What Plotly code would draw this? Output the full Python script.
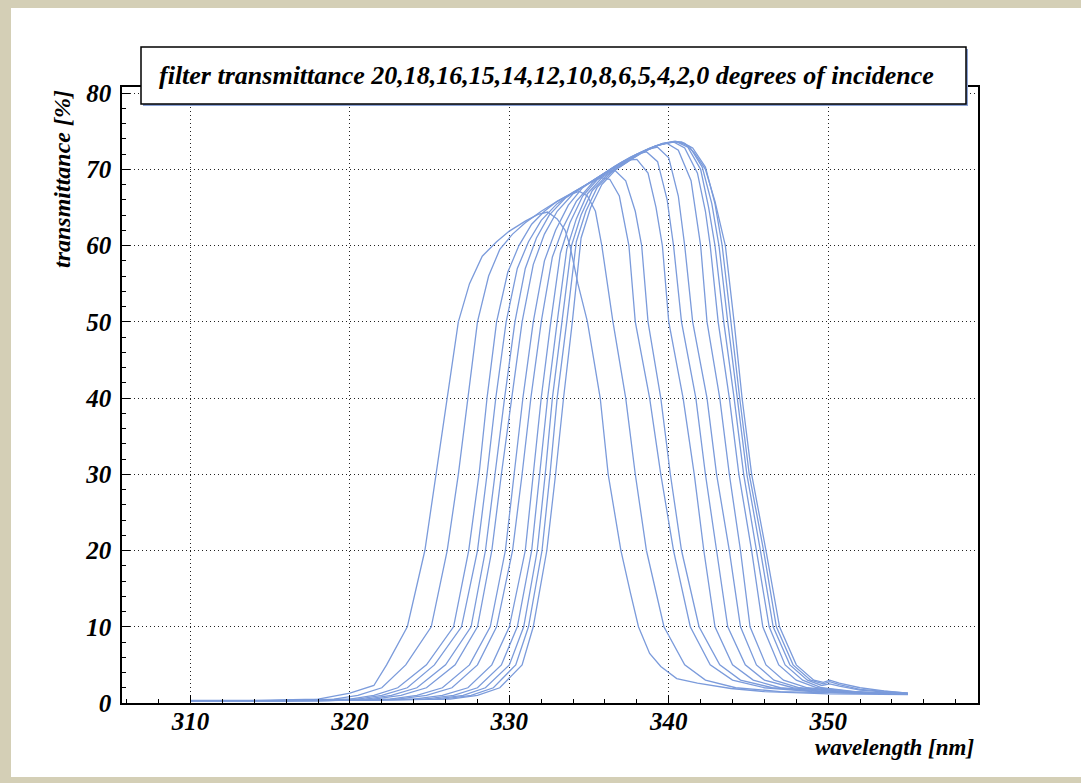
import plotly.graph_objects as go

# incidence angles (degrees)
ANGLES = [20, 18, 16, 15, 14, 12, 10, 8, 6, 5, 4, 2, 0]

WL_20 = [310, 314, 318, 320, 321.5, 322.3, 323.6, 324.7, 325.4, 326.1, 326.8, 327.5, 328.3, 329.2, 330.0, 331.0, 331.8, 332.4, 333.0, 333.5, 333.8, 334.3, 334.9, 335.3, 335.7, 336.2, 337.0, 337.6, 338.1, 338.8, 339.5, 340.5, 341.8, 343.9, 346.0, 350.0, 355.0]
T_20 = [0.35, 0.35, 0.5, 1.3, 2.3, 5, 10, 20, 30, 40, 50, 55, 58.6, 60.5, 61.9, 63.2, 64.1, 64.4, 63.5, 62.0, 60, 55, 50, 45, 40, 30, 20, 14.4, 10, 6.5, 4.8, 3.2, 2.6, 1.9, 1.5, 1.2, 1.1]

WL_18 = [310, 315, 319.0, 320.5, 322.0, 323.5, 325.1, 326.1, 326.8, 327.4, 328.0, 328.7, 329.4, 330.2, 331.0, 332.0, 333.0, 333.8, 334.4, 334.9, 335.4, 335.8, 336.5, 337.3, 337.9, 338.6, 339.7, 341.0, 342.3, 344.2, 347.0, 351.0, 355.0]
T_18 = [0.3, 0.3, 0.5, 1.0, 2, 5, 10, 20, 30, 40, 50, 56, 59.5, 61.5, 63.0, 64.5, 65.8, 66.7, 67.1, 66.5, 64.5, 60, 50, 40, 30, 20, 10, 5, 3, 2, 1.5, 1.3, 1.2]

WL_16 = [310, 316, 320.0, 321.5, 323.0, 324.8, 326.5, 327.45, 328.1, 328.6, 329.2, 329.9, 330.6, 331.4, 332.2, 333.0, 334.0, 335.0, 335.7, 336.3, 336.9, 337.5, 337.9, 338.8, 339.5, 340.3, 341.35, 342.6, 344.0, 346.0, 349.0, 352.0, 355.0]
T_16 = [0.3, 0.3, 0.5, 1.0, 2, 5, 10, 20, 30, 40, 50, 56.5, 60, 62.8, 64.5, 65.8, 67.0, 68.2, 68.9, 68.7, 66.5, 60, 50, 40, 30, 20, 10, 5, 3, 2, 1.5, 1.3, 1.2]

WL_15 = [310, 316, 320.5, 322.0, 323.6, 325.3, 327.0, 328.0, 328.6, 329.15, 329.8, 330.5, 331.2, 332.0, 333.0, 334.0, 335.0, 336.0, 336.6, 337.3, 337.9, 338.3, 338.7, 339.5, 340.1, 340.8, 341.9, 343.2, 344.5, 346.5, 349.5, 352.5, 355.0]
T_15 = [0.3, 0.3, 0.5, 1.0, 2, 5, 10, 20, 30, 40, 50, 57, 60.5, 63.3, 65.5, 67.0, 68.2, 69.5, 69.9, 68.5, 64.5, 60, 50, 40, 30, 20, 10, 5, 3, 2, 1.5, 1.3, 1.2]

WL_14 = [310, 316, 321.0, 322.6, 324.2, 326.0, 327.6, 328.5, 329.1, 329.7, 330.35, 331.0, 331.7, 332.5, 333.5, 334.5, 335.5, 336.5, 337.4, 338.0, 338.7, 339.2, 339.6, 340.0, 340.9, 341.6, 342.2, 342.9, 344.0, 345.3, 347.0, 350.0, 352.5, 355.0]
T_14 = [0.3, 0.3, 0.5, 1.0, 2, 5, 10, 20, 30, 40, 50, 57, 61, 64, 66.2, 67.6, 68.9, 70.2, 71.2, 71.3, 69.5, 65, 60, 50, 40, 30, 20, 10, 5, 3, 2, 1.5, 1.3, 1.2]

WL_12 = [310, 316, 321.5, 323.2, 324.8, 326.6, 328.0, 328.9, 329.5, 330.15, 330.8, 331.5, 332.2, 333.0, 334.0, 335.0, 336.0, 337.0, 338.0, 338.6, 339.3, 339.9, 340.3, 340.8, 341.7, 342.3, 343.0, 343.7, 344.8, 346.0, 347.8, 350.5, 353.0, 355.0]
T_12 = [0.3, 0.3, 0.5, 1.0, 2, 5, 10, 20, 30, 40, 50, 57.5, 61.5, 64.5, 66.8, 68.2, 69.6, 70.9, 72.0, 72.3, 71.0, 66, 60, 50, 40, 30, 20, 10, 5, 3, 2, 1.5, 1.3, 1.2]

WL_10 = [310, 317, 322.5, 324.2, 325.8, 327.5, 328.8, 329.75, 330.3, 330.85, 331.5, 332.2, 332.9, 333.7, 334.6, 335.6, 336.6, 337.6, 338.6, 339.3, 340.0, 340.6, 341.0, 341.5, 342.4, 343.0, 343.8, 344.5, 345.5, 346.6, 348.2, 351.0, 353.0, 355.0]
T_10 = [0.3, 0.3, 0.5, 1.0, 2, 5, 10, 20, 30, 40, 50, 58, 62, 65.3, 67.6, 69.0, 70.4, 71.6, 72.6, 72.9, 71.5, 66.5, 60, 50, 40, 30, 20, 10, 5, 3, 2, 1.5, 1.3, 1.2]

WL_8 = [310, 317, 323.0, 324.8, 326.4, 328.0, 329.2, 330.2, 330.8, 331.35, 332.0, 332.7, 333.4, 334.2, 335.2, 336.2, 337.2, 338.2, 339.2, 339.9, 340.6, 341.4, 342.0, 342.4, 343.2, 343.8, 344.5, 345.1, 346.1, 347.2, 348.7, 351.0, 353.0, 355.0]
T_8 = [0.3, 0.3, 0.5, 1.0, 2, 5, 10, 20, 30, 40, 50, 58.5, 62.5, 65.8, 68.2, 69.8, 71.1, 72.2, 73.1, 73.4, 72.5, 68.5, 60, 50, 40, 30, 20, 10, 5, 3, 2, 1.5, 1.3, 1.2]

WL_6 = [310, 318, 324.0, 325.8, 327.4, 328.9, 330.0, 331.0, 331.5, 332.0, 332.6, 333.2, 333.8, 334.6, 335.5, 336.5, 337.5, 338.5, 339.5, 340.3, 341.0, 341.8, 342.3, 342.6, 343.1, 343.8, 344.4, 345.2, 345.9, 346.9, 348.0, 349.3, 351.5, 353.5, 355.0]
T_6 = [0.3, 0.3, 0.5, 1.0, 2, 5, 10, 20, 30, 40, 50, 59, 63, 66.5, 68.6, 70.1, 71.3, 72.4, 73.3, 73.6, 72.8, 69.5, 64.5, 60, 50, 40, 30, 20, 10, 5, 3, 2, 1.5, 1.3, 1.2]

WL_5 = [310, 318, 324.7, 326.5, 328.0, 329.5, 330.5, 331.4, 331.9, 332.4, 333.0, 333.6, 334.2, 334.9, 335.8, 336.8, 337.8, 338.8, 339.7, 340.5, 341.2, 342.0, 342.5, 342.9, 343.45, 344.1, 344.7, 345.5, 346.3, 347.3, 348.4, 349.6, 351.7, 353.5, 355.0]
T_5 = [0.3, 0.3, 0.5, 1.0, 2, 5, 10, 20, 30, 40, 50, 59.5, 63.5, 66.8, 68.9, 70.4, 71.7, 72.8, 73.4, 73.6, 72.9, 70.0, 65.0, 60, 50, 40, 30, 20, 10, 5, 3, 2, 1.5, 1.3, 1.2]

WL_4 = [310, 318, 325.3, 327.1, 328.5, 330.0, 330.9, 331.75, 332.25, 332.7, 333.3, 333.9, 334.5, 335.2, 336.1, 337.1, 338.1, 339.1, 340.0, 340.6, 341.3, 342.1, 342.7, 343.15, 343.7, 344.3, 344.9, 345.75, 346.55, 347.6, 348.7, 349.6, 350.1, 350.7, 352.0, 353.8, 355.0]
T_4 = [0.3, 0.3, 0.5, 1.0, 2, 5, 10, 20, 30, 40, 50, 60, 64, 67.2, 69.2, 70.7, 72.0, 73.0, 73.5, 73.6, 73.0, 70.3, 65.5, 60, 50, 40, 30, 20, 10, 5, 3, 2.3, 2.5, 2.2, 1.7, 1.4, 1.3]

WL_2 = [310, 318, 325.8, 327.6, 329.0, 330.4, 331.2, 332.05, 332.55, 333.0, 333.6, 334.2, 334.8, 335.5, 336.4, 337.4, 338.4, 339.4, 340.2, 340.8, 341.5, 342.3, 342.9, 343.35, 343.9, 344.45, 345.05, 345.95, 346.75, 347.8, 348.9, 349.7, 350.1, 350.7, 352.0, 353.8, 355.0]
T_2 = [0.3, 0.3, 0.5, 1.0, 2, 5, 10, 20, 30, 40, 50, 60.5, 64.5, 67.6, 69.6, 71.0, 72.3, 73.2, 73.6, 73.6, 72.8, 70.3, 65.5, 60, 50, 40, 30, 20, 10, 5, 3, 2.5, 2.8, 2.4, 1.8, 1.5, 1.3]

WL_0 = [310, 318, 326.3, 328.0, 329.4, 330.8, 331.5, 332.35, 332.9, 333.4, 333.95, 334.5, 335.1, 335.8, 336.7, 337.7, 338.7, 339.6, 340.4, 341.0, 341.6, 342.3, 342.9, 343.55, 344.1, 344.6, 345.2, 346.1, 346.95, 348.0, 349.1, 349.7, 350.1, 350.7, 352.0, 353.5, 355.0]
T_0 = [0.3, 0.3, 0.5, 1.0, 2, 5, 10, 20, 30, 40, 50, 61, 65, 68, 70, 71.4, 72.6, 73.4, 73.7, 73.4, 72.2, 70.0, 65.8, 60, 50, 40, 30, 20, 10, 5, 3, 2.7, 3.0, 2.6, 2.0, 1.6, 1.3]

X_TICKS = [310, 320, 330, 340, 350]
Y_TICKS = [0, 10, 20, 30, 40, 50, 60, 70, 80]
TITLE = "filter transmittance 20,18,16,15,14,12,10,8,6,5,4,2,0 degrees of incidence"
X_TITLE = "wavelength [nm]"
Y_TITLE = "transmittance [%]"

CURVES = [(20, WL_20, T_20), (18, WL_18, T_18), (16, WL_16, T_16), (15, WL_15, T_15),
          (14, WL_14, T_14), (12, WL_12, T_12), (10, WL_10, T_10), (8, WL_8, T_8),
          (6, WL_6, T_6), (5, WL_5, T_5), (4, WL_4, T_4), (2, WL_2, T_2), (0, WL_0, T_0)]

W, H = 1081, 783
ML, MR, MT, MB = 122, 103, 87, 80
PW, PH = W - ML - MR, H - MT - MB


def px(x):
    return (x - ML) / PW


def py(y):
    return (H - MB - y) / PH


LINE_COLOR = "#7b9bdb"
FONT = "Liberation Serif"

fig = go.Figure()
for ang, wl, tr in CURVES:
    fig.add_trace(go.Scatter(x=wl, y=tr, mode="lines", name=f"{ang}°",
                             line=dict(color=LINE_COLOR, width=1.3), showlegend=False,
                             hoverinfo="x+y+name"))

tick_font = dict(family=FONT, size=25, color="black", weight="bold", style="italic")
axis_common = dict(
    showline=True, linecolor="black", linewidth=1.5, mirror=True,
    ticks="inside", ticklen=8, tickwidth=1, tickcolor="black",
    showgrid=True, gridcolor="#222222", gridwidth=1, griddash="1px,3px",
    zeroline=False, tickfont=tick_font,
    minor=dict(ticks="inside", ticklen=4, tickwidth=1, tickcolor="black", dtick=2, showgrid=False),
)
fig.update_xaxes(range=[305.7, 359.4], tickvals=X_TICKS, ticklabelstandoff=-5, **axis_common)
fig.update_yaxes(range=[0, 80.8], tickvals=Y_TICKS, ticklabelstandoff=4, **axis_common)

beige = "#d4cfb6"
shapes = [
    # canvas border
    dict(type="rect", xref="paper", yref="paper", x0=px(0), x1=px(11), y0=py(H), y1=py(0),
         fillcolor=beige, line_width=0, layer="above"),
    dict(type="rect", xref="paper", yref="paper", x0=px(0), x1=px(W), y0=py(8), y1=py(0),
         fillcolor=beige, line_width=0, layer="above"),
    dict(type="rect", xref="paper", yref="paper", x0=px(0), x1=px(W), y0=py(H), y1=py(777),
         fillcolor=beige, line_width=0, layer="above"),
    # title box shadow and box
    dict(type="rect", xref="paper", yref="paper", x0=px(143), x1=px(968), y0=py(106), y1=py(49),
         fillcolor="#8aa2d6", line_width=0, layer="above"),
    dict(type="rect", xref="paper", yref="paper", x0=px(141), x1=px(966), y0=py(104), y1=py(47),
         fillcolor="white", line=dict(color="black", width=1.5), layer="above"),
]

annotations = [
    dict(text=TITLE, xref="paper", yref="paper", x=px(546), y=py(75), xanchor="center", yanchor="middle",
         showarrow=False, font=dict(family=FONT, size=26, color="black", weight="bold", style="italic")),
    dict(text=X_TITLE, xref="paper", yref="paper", x=px(976), y=py(747), xanchor="right", yanchor="middle",
         showarrow=False, font=dict(family=FONT, size=23, color="black", weight="bold", style="italic")),
    dict(text=Y_TITLE, xref="paper", yref="paper", x=px(62), y=py(88), xanchor="center", yanchor="top",
         textangle=-90, showarrow=False,
         font=dict(family=FONT, size=24, color="black", weight="bold", style="italic")),
]

fig.update_layout(
    width=W, height=H, autosize=False,
    margin=dict(l=ML, r=MR, t=MT, b=MB, pad=0),
    paper_bgcolor="white", plot_bgcolor="white",
    shapes=shapes, annotations=annotations, showlegend=False,
)

fig.write_html("out.html")
